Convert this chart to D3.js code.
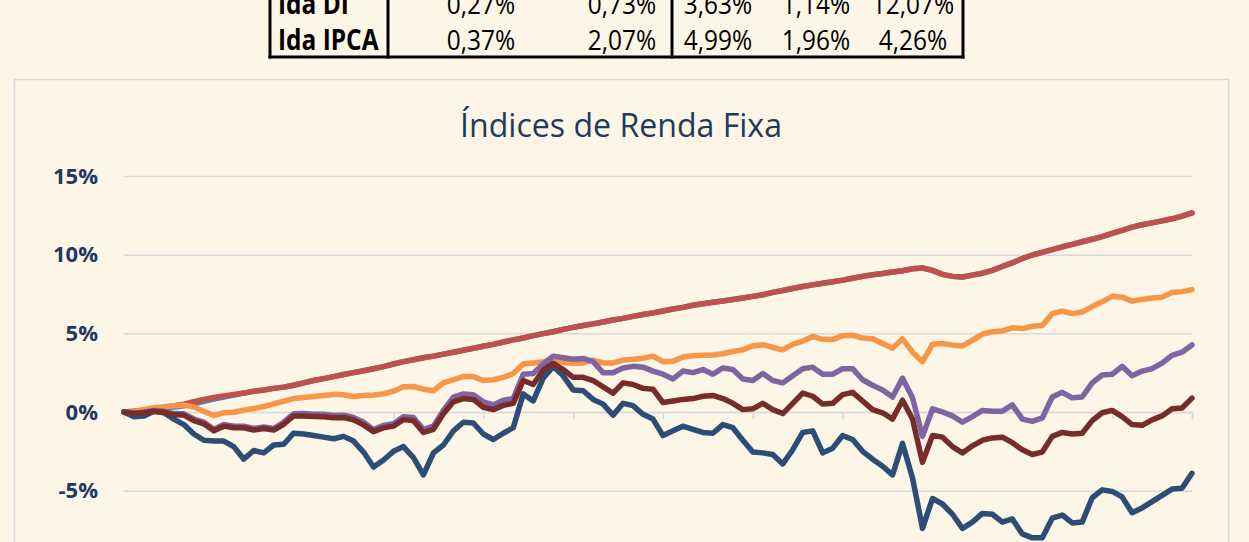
<!DOCTYPE html>
<html><head><meta charset="utf-8">
<script src="https://cdn.jsdelivr.net/npm/d3@7"></script>
<style>html,body{margin:0;padding:0;background:#FDF5E6;overflow:hidden} svg{display:block}</style>
</head><body>
<svg id="c" width="1249" height="542"></svg>
<script>
// ---------- data ----------
const chartTitle = "Índices de Renda Fixa";
const tableRows = ["Ida DI", "Ida IPCA"];
const tableValues = [
  ["0,27%", "0,73%", "3,63%", "1,14%", "12,07%"],
  ["0,37%", "2,07%", "4,99%", "1,96%", "4,26%"]
];
const yTicks = [15, 10, 5, 0, -5];
const yTickLabels = ["15%", "10%", "5%", "0%", "-5%"];
const xTickIndex = [0, 9, 18, 27, 36, 45, 54, 63, 72, 81, 90, 99, 107];

const serieVermelha = [0.00,0.05,0.12,0.20,0.30,0.40,0.50,0.65,0.80,0.92,
1.02,1.12,1.20,1.32,1.40,1.50,1.58,1.70,1.85,2.00,
2.12,2.25,2.38,2.50,2.62,2.75,2.88,3.05,3.20,3.32,
3.45,3.55,3.68,3.80,3.92,4.05,4.18,4.30,4.45,4.58,
4.70,4.85,4.98,5.10,5.25,5.38,5.50,5.60,5.72,5.85,
5.95,6.08,6.20,6.30,6.42,6.55,6.65,6.78,6.88,6.98,
7.05,7.15,7.25,7.35,7.45,7.60,7.72,7.85,7.98,8.08,
8.18,8.28,8.38,8.50,8.62,8.72,8.80,8.90,8.98,9.10,
9.15,9.00,8.75,8.62,8.58,8.70,8.82,9.00,9.25,9.48,
9.75,9.98,10.15,10.32,10.50,10.65,10.82,10.98,11.15,11.35,
11.55,11.75,11.90,12.02,12.15,12.28,12.45,12.65];

const serieAzulClara = [0.00,0.04,0.10,0.18,0.26,0.32,0.40,0.52,0.68,0.82,
0.95,1.08,1.20,1.32,1.40,1.50,1.58,1.70,1.85,2.00,
2.12,2.25,2.38,2.50,2.62,2.75,2.88,3.05,3.20,3.32,
3.45,3.55,3.68,3.80,3.92,4.05,4.18,4.30,4.45,4.58,
4.70,4.85,4.98,5.10,5.25,5.38,5.50,5.60,5.72,5.85,
5.95,6.08,6.20,6.30,6.42,6.55,6.65,6.78,6.88,6.98,
7.05,7.15,7.25,7.35,7.45,7.60,7.72,7.85,7.98,8.08,
8.18,8.28,8.38,8.50,8.62,8.72,8.80,8.90,8.98,9.10,
9.15,9.00,8.75,8.62,8.58,8.70,8.82,9.00,9.25,9.48,
9.75,9.98,10.15,10.32,10.50,10.65,10.82,10.98,11.15,11.35,
11.55,11.75,11.90,12.02,12.15,12.28,12.45,12.65];

const serieLaranja = [0.00,0.02,0.15,0.28,0.32,0.40,0.45,0.32,0.05,-0.22,
-0.05,-0.02,0.12,0.22,0.35,0.52,0.68,0.85,0.92,0.98,
1.05,1.12,1.10,0.98,1.05,1.08,1.15,1.32,1.60,1.62,
1.45,1.35,1.85,2.05,2.25,2.25,2.00,2.05,2.20,2.45,
3.05,3.12,3.20,3.30,3.15,3.10,3.12,3.30,3.12,3.12,
3.30,3.35,3.42,3.55,3.20,3.22,3.50,3.58,3.60,3.62,
3.70,3.85,3.95,4.20,4.28,4.10,3.95,4.30,4.50,4.80,
4.62,4.60,4.85,4.88,4.70,4.65,4.35,4.05,4.65,3.80,
3.20,4.30,4.35,4.25,4.20,4.55,4.95,5.10,5.15,5.35,
5.30,5.45,5.50,6.25,6.40,6.25,6.35,6.70,7.00,7.35,
7.30,7.05,7.15,7.25,7.30,7.60,7.65,7.78];

const serieRoxa = [0.00,-0.08,0.00,0.10,0.05,-0.10,-0.12,-0.45,-0.65,-1.10,
-0.80,-0.90,-0.90,-1.05,-0.95,-1.05,-0.65,-0.12,-0.10,-0.15,
-0.15,-0.22,-0.20,-0.35,-0.65,-1.12,-0.85,-0.75,-0.30,-0.35,
-1.10,-0.90,0.10,0.95,1.15,1.10,0.65,0.45,0.75,0.85,
2.40,2.45,3.05,3.55,3.45,3.35,3.40,3.20,2.50,2.50,
2.80,2.90,2.85,2.60,2.40,2.10,2.60,2.50,2.70,2.40,
2.80,2.70,2.10,2.00,2.45,2.00,1.85,2.30,2.75,2.85,
2.40,2.40,2.75,2.75,2.05,1.70,1.40,0.95,2.15,0.90,
-1.55,0.20,0.00,-0.25,-0.65,-0.30,0.10,0.05,0.05,0.45,
-0.45,-0.60,-0.38,0.95,1.25,0.90,0.95,1.85,2.35,2.40,
2.90,2.30,2.60,2.75,3.10,3.60,3.80,4.26];

const serieMarrom = [0.00,-0.10,-0.05,0.05,-0.02,-0.18,-0.20,-0.55,-0.75,-1.20,
-0.90,-1.00,-1.00,-1.15,-1.05,-1.15,-0.78,-0.25,-0.25,-0.28,
-0.30,-0.36,-0.35,-0.50,-0.82,-1.25,-1.00,-0.90,-0.48,-0.55,
-1.30,-1.10,-0.12,0.65,0.85,0.80,0.30,0.15,0.42,0.55,
2.00,1.75,2.65,3.10,2.70,2.20,2.20,2.00,1.60,1.20,
1.85,1.75,1.50,1.45,0.60,0.70,0.80,0.85,1.00,1.05,
0.85,0.55,0.15,0.20,0.55,0.15,-0.10,0.55,1.20,1.00,
0.50,0.55,1.10,1.25,0.70,0.15,-0.05,-0.45,0.75,-0.45,
-3.20,-1.50,-1.60,-2.20,-2.60,-2.15,-1.80,-1.65,-1.60,-1.95,
-2.40,-2.70,-2.55,-1.55,-1.30,-1.40,-1.35,-0.55,-0.05,0.10,
-0.30,-0.80,-0.85,-0.50,-0.25,0.20,0.25,0.88];

const serieAzulEscura = [0.00,-0.30,-0.25,0.05,-0.05,-0.45,-0.80,-1.40,-1.80,-1.85,
-1.85,-2.20,-3.00,-2.45,-2.60,-2.10,-2.05,-1.35,-1.40,-1.50,
-1.60,-1.70,-1.55,-1.85,-2.55,-3.50,-3.05,-2.50,-2.20,-2.90,
-4.00,-2.60,-2.10,-1.20,-0.65,-0.70,-1.40,-1.75,-1.35,-1.00,
1.15,0.70,2.15,2.90,2.30,1.40,1.35,0.80,0.50,-0.20,
0.55,0.40,-0.15,-0.45,-1.50,-1.20,-0.90,-1.10,-1.30,-1.35,
-0.80,-1.00,-1.80,-2.55,-2.60,-2.70,-3.30,-2.40,-1.30,-1.20,
-2.60,-2.30,-1.50,-1.75,-2.50,-3.00,-3.45,-4.00,-2.00,-4.20,
-7.40,-5.50,-5.85,-6.50,-7.40,-7.00,-6.45,-6.50,-7.00,-6.80,
-7.75,-8.00,-8.00,-6.75,-6.55,-7.05,-7.00,-5.45,-4.95,-5.05,
-5.40,-6.40,-6.10,-5.70,-5.30,-4.90,-4.85,-3.90];

// drawing order: bottom to top
const seriesList = [
  {name: "azul clara", values: serieAzulClara, color: "#4F81BD"},
  {name: "vermelha", values: serieVermelha, color: "#C0504D"},
  {name: "laranja", values: serieLaranja, color: "#F79646"},
  {name: "azul escura", values: serieAzulEscura, color: "#2C4D75"},
  {name: "roxa", values: serieRoxa, color: "#8064A2"},
  {name: "marrom", values: serieMarrom, color: "#772C2A"}
];

// ---------- drawing ----------
const svg = d3.select("#c");
const W = 1249, H = 542;
svg.append("rect").attr("width", W).attr("height", H).attr("fill", "#FDF5E6");

// table (cropped at top, as in the source)
const tbl = svg.append("g");
const tblLeft = 270, tblRight = 963, tblBottom = 57;
const colCenters = [481, 622, 718, 816, 913];
const rowBaselines = [14, 50];
tbl.selectAll("text.lab").data(tableRows).join("text")
  .attr("x", 278).attr("y", (d, i) => rowBaselines[i])
  .attr("font-family", "Open Sans, sans-serif").attr("font-weight", "bold")
  .attr("font-size", 26).attr("fill", "#000")
  .attr("transform", (d, i) => `translate(278,${rowBaselines[i]}) scale(0.94,1.08) translate(-278,${-rowBaselines[i]})`)
  .text(d => d);
tableValues.forEach((row, r) => {
  tbl.selectAll("text.v" + r).data(row).join("text")
    .attr("x", (d, i) => colCenters[i]).attr("y", rowBaselines[r])
    .attr("text-anchor", "middle")
    .attr("font-family", "Open Sans, sans-serif")
    .attr("font-size", 26).attr("fill", "#000")
    .attr("transform", (d, i) => `translate(${colCenters[i]},${rowBaselines[r]}) scale(0.94,1.08) translate(${-colCenters[i]},${-rowBaselines[r]})`)
    .text(d => d);
});
[tblLeft, 388, 672, tblRight].forEach(xv => {
  tbl.append("line").attr("x1", xv).attr("x2", xv).attr("y1", -5).attr("y2", tblBottom + 1.5)
    .attr("stroke", "#000").attr("stroke-width", 3);
});
tbl.append("line").attr("x1", tblLeft - 1.5).attr("x2", tblRight + 1.5)
  .attr("y1", tblBottom).attr("y2", tblBottom).attr("stroke", "#000").attr("stroke-width", 3);

// chart frame
svg.append("rect").attr("x", 14.5).attr("y", 79.5).attr("width", 1214).attr("height", 520)
  .attr("fill", "#FDF5E6").attr("stroke", "#D9D9D9").attr("stroke-width", 1.5);

// title
svg.append("text").attr("x", 621).attr("y", 137).attr("text-anchor", "middle")
  .attr("font-family", "Open Sans, sans-serif").attr("font-size", 32)
  .attr("textLength", 322).attr("lengthAdjust", "spacingAndGlyphs")
  .attr("fill", "#1F3A60").text(chartTitle);

const x = d3.scaleLinear().domain([0, serieVermelha.length - 1]).range([124, 1192]);
const y = d3.scaleLinear().domain([-10, 15]).range([569.3, 176]);

// gridlines + y labels
const yAxis = d3.axisLeft(y).tickValues(yTicks).tickSize(-(1192 - 124))
  .tickFormat((d, i) => yTickLabels[i]).tickPadding(26);
const gy = svg.append("g").attr("transform", "translate(124,0)").call(yAxis);
gy.select(".domain").remove();
gy.selectAll(".tick line").attr("stroke", "#D9D9D9").attr("stroke-width", 1.5);
gy.selectAll(".tick text").attr("font-family", "Open Sans, sans-serif")
  .attr("font-weight", "bold").attr("font-size", 22).attr("fill", "#1F3864");

// category axis at 0 with tick marks
const xAxis = d3.axisBottom(x).tickValues(xTickIndex).tickSize(7).tickFormat("");
const gx = svg.append("g").attr("transform", `translate(0,${y(0)})`).call(xAxis);
gx.select(".domain").attr("stroke", "#D9D9D9").attr("stroke-width", 1.5);
gx.selectAll(".tick line").attr("stroke", "#D9D9D9").attr("stroke-width", 1.5);

// lines
const line = d3.line().x((d, i) => x(i)).y(d => y(d));
svg.append("g").selectAll("path").data(seriesList).join("path")
  .attr("d", s => line(s.values))
  .attr("fill", "none").attr("stroke", s => s.color)
  .attr("stroke-width", 5.5).attr("stroke-linejoin", "round").attr("stroke-linecap", "round");
</script>
</body></html>
